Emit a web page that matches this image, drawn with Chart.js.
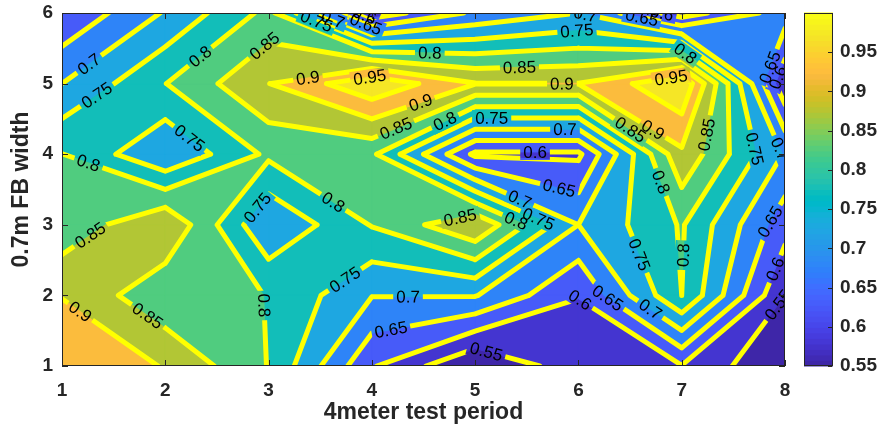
<!DOCTYPE html>
<html>
<head>
<meta charset="utf-8">
<script src="https://cdn.jsdelivr.net/npm/chart.js@4.4.1/dist/chart.umd.min.js"></script>
<style>
  html, body { margin: 0; padding: 0; background: #fff; }
</style>
</head>
<body>
<canvas id="contourChart" width="881" height="434"></canvas>
<script>
// grid positions
const xValues = [1, 2, 3, 4, 5, 6, 7, 8];
const yValues = [1, 2, 3, 4, 5, 6];

const zRow1 = [0.94, 0.897, 0.798, 0.605, 0.50, 0.58, 0.598, 0.50];
const zRow2 = [0.898, 0.81, 0.7995, 0.702, 0.703, 0.601, 0.80, 0.55];
const zRow3 = [0.815, 0.898, 0.703, 0.803, 0.895, 0.70, 0.805, 0.62];
const zRow4 = [0.801, 0.703, 0.81, 0.81, 0.59, 0.59, 0.89, 0.695];
const zRow5 = [0.70, 0.799, 0.899, 0.99, 0.902, 0.901, 0.995, 0.56];
const zRow6 = [0.605, 0.705, 0.815, 0.57, 0.66, 0.70, 0.575, 0.675];

const levels = [0.55, 0.6, 0.65, 0.7, 0.75, 0.8, 0.85, 0.9, 0.95];
const colorTicks = [0.55, 0.6, 0.65, 0.7, 0.75, 0.8, 0.85, 0.9, 0.95];
const colorMin = 0.55;
const colorMax = 1.0;

// where the inline contour labels sit: [level, x, y]
const labelSpots = [
  [0.7, 1.27, 5.26], [0.75, 1.32, 4.87], [0.8, 2.34, 5.38], [0.85, 2.99, 5.48],
  [0.9, 3.38, 5.09], [0.95, 3.98, 5.08], [0.75, 3.45, 5.83], [0.7, 3.62, 5.9],
  [0.65, 3.93, 5.8], [0.6, 3.93, 5.97], [0.8, 4.56, 5.36], [0.85, 5.43, 5.19],
  [0.9, 5.84, 4.98], [0.7, 6.06, 5.93], [0.75, 5.99, 5.66], [0.65, 6.6, 5.83],
  [0.6, 6.79, 5.87], [0.8, 6.98, 5.31], [0.95, 6.9, 5.05], [0.65, 7.8, 5.26],
  [0.6, 7.87, 5.12], [0.85, 4.22, 4.41], [0.9, 4.47, 4.74], [0.8, 4.71, 4.46],
  [0.75, 5.16, 4.51], [0.7, 5.87, 4.34], [0.6, 5.58, 3.99], [0.65, 5.82, 3.56],
  [0.85, 6.5, 4.34], [0.9, 6.69, 4.27], [0.85, 7.27, 4.27], [0.75, 7.66, 4.06],
  [0.7, 7.93, 4.06], [0.8, 6.79, 3.6], [0.75, 2.22, 4.2], [0.8, 1.25, 3.85],
  [0.8, 3.64, 3.35], [0.75, 2.92, 3.21], [0.85, 4.85, 3.14], [0.7, 5.43, 3.35],
  [0.8, 5.39, 3.04], [0.75, 5.63, 3.14], [0.85, 1.27, 2.86], [0.9, 1.22, 1.86],
  [0.85, 1.8, 1.65], [0.8, 2.99, 1.86], [0.75, 3.74, 2.22], [0.7, 4.35, 2.0],
  [0.65, 4.18, 1.55], [0.55, 5.1, 1.16], [0.6, 6.0, 1.9], [0.65, 6.3, 2.0],
  [0.7, 6.69, 1.79], [0.75, 6.58, 2.57], [0.8, 7.0, 2.57], [0.65, 7.79, 3.1],
  [0.6, 7.81, 2.43], [0.55, 7.83, 1.98]
];

const zRows = [zRow1, zRow2, zRow3, zRow4, zRow5, zRow6];
const FONT = "'Liberation Sans', Arial, Helvetica, sans-serif";
const INK = "#262626";

// parula (64 steps)
const parula = [
  [0.2422,0.1504,0.6603],[0.2504,0.1650,0.7076],[0.2578,0.1818,0.7511],[0.2647,0.1978,0.7952],
  [0.2706,0.2147,0.8364],[0.2751,0.2342,0.8710],[0.2783,0.2559,0.8991],[0.2803,0.2782,0.9221],
  [0.2813,0.3006,0.9414],[0.2810,0.3228,0.9579],[0.2795,0.3447,0.9717],[0.2760,0.3667,0.9829],
  [0.2699,0.3892,0.9906],[0.2602,0.4123,0.9952],[0.2440,0.4358,0.9988],[0.2206,0.4603,0.9973],
  [0.1963,0.4847,0.9892],[0.1834,0.5074,0.9798],[0.1786,0.5289,0.9682],[0.1764,0.5499,0.9520],
  [0.1687,0.5703,0.9359],[0.1540,0.5902,0.9218],[0.1460,0.6091,0.9079],[0.1380,0.6276,0.8973],
  [0.1248,0.6459,0.8883],[0.1113,0.6635,0.8763],[0.0952,0.6798,0.8598],[0.0689,0.6948,0.8394],
  [0.0297,0.7082,0.8163],[0.0036,0.7203,0.7917],[0.0067,0.7312,0.7660],[0.0433,0.7411,0.7394],
  [0.0964,0.7500,0.7120],[0.1408,0.7584,0.6842],[0.1717,0.7670,0.6554],[0.1938,0.7758,0.6251],
  [0.2161,0.7843,0.5923],[0.2470,0.7918,0.5567],[0.2906,0.7973,0.5188],[0.3406,0.8008,0.4789],
  [0.3909,0.8029,0.4354],[0.4456,0.8024,0.3909],[0.5044,0.7993,0.3480],[0.5616,0.7942,0.3045],
  [0.6174,0.7876,0.2612],[0.6720,0.7793,0.2227],[0.7242,0.7698,0.1910],[0.7738,0.7598,0.1646],
  [0.8203,0.7498,0.1535],[0.8634,0.7406,0.1596],[0.9035,0.7330,0.1774],[0.9393,0.7288,0.2100],
  [0.9728,0.7298,0.2394],[0.9956,0.7434,0.2371],[0.9970,0.7659,0.2199],[0.9952,0.7893,0.2028],
  [0.9892,0.8136,0.1885],[0.9780,0.8382,0.1778],[0.9674,0.8634,0.1650],[0.9610,0.8890,0.1537],
  [0.9597,0.9135,0.1423],[0.9628,0.9373,0.1265],[0.9691,0.9606,0.1064],[0.9769,0.9839,0.0805]
];

function colorAt(v) {
  let t = (v - colorMin) / (colorMax - colorMin);
  t = Math.max(0, Math.min(1, t)) * 63;
  const i = Math.min(62, Math.floor(t)), f = t - i;
  const a = parula[i], b = parula[i + 1];
  const c = a.map((x, k) => Math.round(255 * (x + (b[k] - x) * f)));
  return `rgb(${c[0]},${c[1]},${c[2]})`;
}

// fill colour of the band starting at levels[k]; k = -1 is below the lowest level
function bandColor(k) {
  if (k < 0) return colorAt(colorMin);
  const top = k + 1 < levels.length ? levels[k + 1] : colorMax;
  return colorAt((levels[k] + top) / 2);
}

function corners(i, j) {
  return [
    [xValues[i], yValues[j], zRows[j][i]],
    [xValues[i + 1], yValues[j], zRows[j][i + 1]],
    [xValues[i + 1], yValues[j + 1], zRows[j + 1][i + 1]],
    [xValues[i], yValues[j + 1], zRows[j + 1][i]]
  ];
}

function lerp(p, q, L) {
  const t = (L - p[2]) / (q[2] - p[2]);
  return [p[0] + t * (q[0] - p[0]), p[1] + t * (q[1] - p[1])];
}

// part of a cell where z >= L (high corners joined in saddle cells)
function regionPolygon(c, L) {
  const pts = [];
  for (let e = 0; e < 4; e++) {
    const p = c[e], q = c[(e + 1) % 4];
    if (p[2] >= L) pts.push([p[0], p[1]]);
    if ((p[2] >= L) !== (q[2] >= L)) pts.push(lerp(p, q, L));
  }
  return pts;
}

function cellSegments(c, L) {
  const hi = c.map(p => p[2] >= L);
  const cross = {};
  let n = 0;
  for (let e = 0; e < 4; e++) {
    if (hi[e] !== hi[(e + 1) % 4]) { cross[e] = lerp(c[e], c[(e + 1) % 4], L); n++; }
  }
  const keys = Object.keys(cross).map(Number);
  if (n === 2) return [[cross[keys[0]], cross[keys[1]]]];
  if (n === 4) {
    const segs = [];
    for (let k = 0; k < 4; k++) {
      if (!hi[k]) segs.push([cross[(k + 3) % 4], cross[k]]);
    }
    return segs;
  }
  return [];
}

const contourPlugin = {
  id: 'contourPlugin',
  beforeDatasetsDraw(chart) {
    const { ctx, chartArea: a, scales } = chart;
    const sx = scales.x, sy = scales.y;
    const px = p => [sx.getPixelForValue(p[0]), sy.getPixelForValue(p[1])];

    ctx.save();
    ctx.beginPath();
    ctx.rect(a.left, a.top, a.right - a.left, a.bottom - a.top);
    ctx.clip();

    // filled bands
    ctx.fillStyle = bandColor(-1);
    ctx.fillRect(a.left, a.top, a.right - a.left, a.bottom - a.top);
    levels.forEach((L, k) => {
      const col = bandColor(k);
      ctx.fillStyle = col;
      ctx.strokeStyle = col;
      ctx.lineWidth = 1;
      for (let j = 0; j < yValues.length - 1; j++) {
        for (let i = 0; i < xValues.length - 1; i++) {
          const poly = regionPolygon(corners(i, j), L);
          if (poly.length < 3) continue;
          ctx.beginPath();
          poly.forEach((p, n) => {
            const q = px(p);
            n ? ctx.lineTo(q[0], q[1]) : ctx.moveTo(q[0], q[1]);
          });
          ctx.closePath();
          ctx.fill();
          ctx.stroke();
        }
      }
    });

    // contour segments in pixels, per level
    const segsByLevel = levels.map(L => {
      const out = [];
      for (let j = 0; j < yValues.length - 1; j++)
        for (let i = 0; i < xValues.length - 1; i++)
          cellSegments(corners(i, j), L).forEach(s => out.push([px(s[0]), px(s[1])]));
      return out;
    });

    // place labels on nearest segment of their level
    ctx.font = `17px ${FONT}`;
    const placed = [];
    labelSpots.forEach(([L, lx, ly]) => {
      const k = levels.findIndex(v => Math.abs(v - L) < 1e-9);
      if (k < 0) return;
      const ax = sx.getPixelForValue(lx), ay = sy.getPixelForValue(ly);
      let best = null;
      segsByLevel[k].forEach(([p, q]) => {
        const dx = q[0] - p[0], dy = q[1] - p[1];
        const len2 = dx * dx + dy * dy;
        if (len2 < 1) return;
        let t = ((ax - p[0]) * dx + (ay - p[1]) * dy) / len2;
        t = Math.max(0, Math.min(1, t));
        const cx = p[0] + t * dx, cy = p[1] + t * dy;
        const d = Math.hypot(cx - ax, cy - ay);
        if (!best || d < best.d) best = { d, cx, cy, ang: Math.atan2(dy, dx) };
      });
      if (!best || best.d > 30) return;
      let ang = best.ang;
      if (ang > Math.PI / 2) ang -= Math.PI;
      if (ang <= -Math.PI / 2) ang += Math.PI;
      const text = String(L);
      placed.push({ x: best.cx, y: best.cy, ang, text, w: ctx.measureText(text).width });
    });

    // lines, with gaps where labels go
    ctx.beginPath();
    ctx.rect(a.left - 10, a.top - 10, a.right - a.left + 20, a.bottom - a.top + 20);
    placed.forEach(l => {
      const hw = l.w / 2 + 3, hh = 8;
      const c = Math.cos(l.ang), s = Math.sin(l.ang);
      const pts = [[-hw, -hh], [hw, -hh], [hw, hh], [-hw, hh]].map(([u, v]) => [l.x + u * c - v * s, l.y + u * s + v * c]);
      ctx.moveTo(pts[0][0], pts[0][1]);
      for (let n = 1; n < 4; n++) ctx.lineTo(pts[n][0], pts[n][1]);
      ctx.closePath();
    });
    ctx.save();
    ctx.clip('evenodd');
    ctx.strokeStyle = '#ffff00';
    ctx.lineWidth = 5;
    ctx.lineCap = 'round';
    ctx.lineJoin = 'round';
    segsByLevel.forEach(segs => {
      ctx.beginPath();
      segs.forEach(([p, q]) => { ctx.moveTo(p[0], p[1]); ctx.lineTo(q[0], q[1]); });
      ctx.stroke();
    });
    ctx.restore();

    // label text
    ctx.fillStyle = '#000';
    ctx.textAlign = 'center';
    ctx.textBaseline = 'middle';
    placed.forEach(l => {
      ctx.save();
      ctx.translate(l.x, l.y);
      ctx.rotate(l.ang);
      ctx.fillText(l.text, 0, 1);
      ctx.restore();
    });
    ctx.restore();

    // axes box and inward ticks
    ctx.save();
    ctx.strokeStyle = INK;
    ctx.lineWidth = 1;
    ctx.strokeRect(a.left + 0.5, a.top + 0.5, a.right - a.left - 1, a.bottom - a.top - 1);
    ctx.beginPath();
    xValues.forEach(v => {
      const x = Math.round(sx.getPixelForValue(v)) + 0.5;
      ctx.moveTo(x, a.bottom); ctx.lineTo(x, a.bottom - 6);
      ctx.moveTo(x, a.top); ctx.lineTo(x, a.top + 6);
    });
    yValues.forEach(v => {
      const y = Math.round(sy.getPixelForValue(v)) + 0.5;
      ctx.moveTo(a.left, y); ctx.lineTo(a.left + 6, y);
      ctx.moveTo(a.right, y); ctx.lineTo(a.right - 6, y);
    });
    ctx.stroke();

    // colour bar
    const cb = scales.cb;
    const bx = a.right + 19, bw = 29;
    const yTop = cb.getPixelForValue(colorMax), yBot = cb.getPixelForValue(colorMin);
    const step = (yBot - yTop) / 64;
    for (let n = 0; n < 64; n++) {
      const c = parula[n].map(v => Math.round(v * 255));
      ctx.fillStyle = `rgb(${c[0]},${c[1]},${c[2]})`;
      ctx.fillRect(bx, yBot - (n + 1) * step - 0.5, bw, step + 1);
    }
    ctx.strokeRect(bx + 0.5, yTop + 0.5, bw - 1, yBot - yTop - 1);
    ctx.beginPath();
    colorTicks.forEach(v => {
      const y = Math.round(cb.getPixelForValue(v)) + 0.5;
      ctx.moveTo(bx + bw - 1, y); ctx.lineTo(bx + bw - 5, y);
    });
    ctx.stroke();
    ctx.restore();
  }
};

const tickFont = { family: FONT, size: 19, weight: 'bold' };
const titleFont = { family: FONT, size: 23, weight: 'bold' };
// invisible tick marks give the label offset without adding vertical padding
const hiddenTicks = len => ({ display: true, drawOnChartArea: false, drawTicks: true, tickLength: len, tickColor: 'rgba(0,0,0,0)', color: 'rgba(0,0,0,0)' });

new Chart(document.getElementById('contourChart'), {
  type: 'scatter',
  data: { datasets: [{ data: [], showLine: false }] },
  options: {
    responsive: false,
    animation: false,
    devicePixelRatio: 1,
    layout: { padding: { top: 13, left: 0, right: 0, bottom: 0 } },
    plugins: { legend: { display: false }, tooltip: { enabled: false } },
    scales: {
      x: {
        type: 'linear', position: 'bottom', min: 1, max: 8,
        afterBuildTicks: s => { s.ticks = xValues.map(v => ({ value: v })); },
        ticks: { color: INK, font: tickFont, padding: 5 },
        grid: { display: false }, border: { display: false },
        title: { display: true, text: '4meter test period', color: INK, font: titleFont, padding: { top: 0, bottom: 8 } },
        afterFit: s => { s.height = 68; }
      },
      y: {
        type: 'linear', position: 'left', min: 1, max: 6,
        afterBuildTicks: s => { s.ticks = yValues.map(v => ({ value: v })); },
        ticks: { color: INK, font: tickFont, padding: 0 },
        grid: hiddenTicks(9), border: { display: false },
        title: { display: true, text: '0.7m FB width', color: INK, font: titleFont, padding: { top: 8, bottom: 0 } },
        afterFit: s => { s.width = 62; }
      },
      cb: {
        type: 'linear', position: 'right', min: colorMin, max: colorMax,
        afterBuildTicks: s => { s.ticks = colorTicks.map(v => ({ value: v })); },
        ticks: { color: INK, font: tickFont, padding: 0, callback: v => String(+v.toFixed(2)) },
        grid: hiddenTicks(55), border: { display: false },
        afterFit: s => { s.width = 96; }
      }
    }
  },
  plugins: [contourPlugin]
});
</script>
</body>
</html>
